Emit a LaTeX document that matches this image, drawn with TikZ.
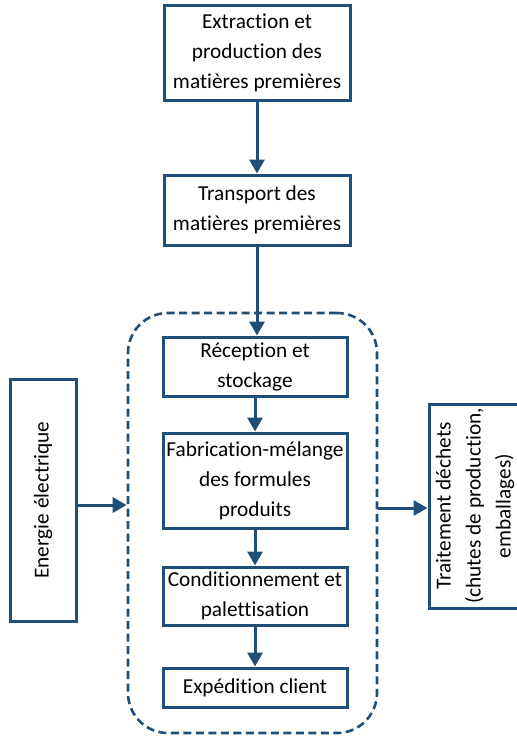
\documentclass[tikz,border=0pt]{standalone}
\usepackage{fontspec}
\setmainfont{Carlito}[Ligatures={NoCommon}]
\usetikzlibrary{arrows.meta}
\definecolor{dblue}{HTML}{1F4E79}
\begin{document}
\begin{tikzpicture}[x=1pt,y=-1pt,
  stepbox/.style={draw=dblue,line width=3pt,fill=white,rectangle,inner sep=0pt,align=center,
    font=\fontsize{21.3}{30}\selectfont},
  plainbox/.style={draw=dblue,line width=3pt,fill=white,rectangle,inner sep=0pt},
  rtext/.style={rotate=90,align=center,inner sep=0pt,font=\fontsize{21.3}{30}\selectfont},
  arr/.style={draw=dblue,line width=3pt,-{Triangle[width=15pt,length=14pt]}}]
\useasboundingbox (0,0) rectangle (517,737);
\clip (0,0) rectangle (517,737);
\node[draw=dblue,line width=2.6pt,dash pattern=on 8pt off 4.5pt,rounded corners=40pt,
  minimum width=249pt,minimum height=420pt,inner sep=0pt] (dash) at (252.5,523) {};
\node[stepbox,minimum width=186pt,minimum height=95pt] (b1) at (257,52.5)
  {Extraction et\\production des\\matières premières};
\node[stepbox,minimum width=186pt,minimum height=70pt] (b2) at (257,210)
  {Transport des\\matières premières};
\node[stepbox,minimum width=184pt,minimum height=59pt] (b3) at (255,366.5)
  {Réception et\\stockage};
\node[stepbox,minimum width=184pt,minimum height=95pt] (b4) at (255,480.5)
  {Fabrication-mélange\\des formules\\produits};
\node[stepbox,minimum width=184pt,minimum height=58pt] (b5) at (255,596)
  {Conditionnement et\\palettisation};
\node[stepbox,minimum width=184pt,minimum height=39pt] (b6) at (255,687.5)
  {Expédition client};
\node[plainbox,minimum width=66pt,minimum height=242pt] (left) at (43,500) {};
\node[rtext] (lefttxt) at (left.center) {Energie électrique};
\node[plainbox,minimum width=92pt,minimum height=204pt] (right) at (475,506) {};
\node[rtext] (righttxt) at (right.center) {Traitement déchets\\(chutes de production,\\emballages)};
\draw[arr] (b1.south -| 257,0) -- (b2.north -| 257,0);
\draw[arr] (b2.south -| 257,0) -- (b3.north -| 257,0);
\draw[arr] (b3) -- (b4);
\draw[arr] (b4) -- (b5);
\draw[arr] (b5) -- (b6);
\draw[arr] (left.east |- 0,505) -- (dash.west |- 0,505);
\draw[arr] (dash.east |- 0,508) -- (right.west |- 0,508);
\end{tikzpicture}
\end{document}
